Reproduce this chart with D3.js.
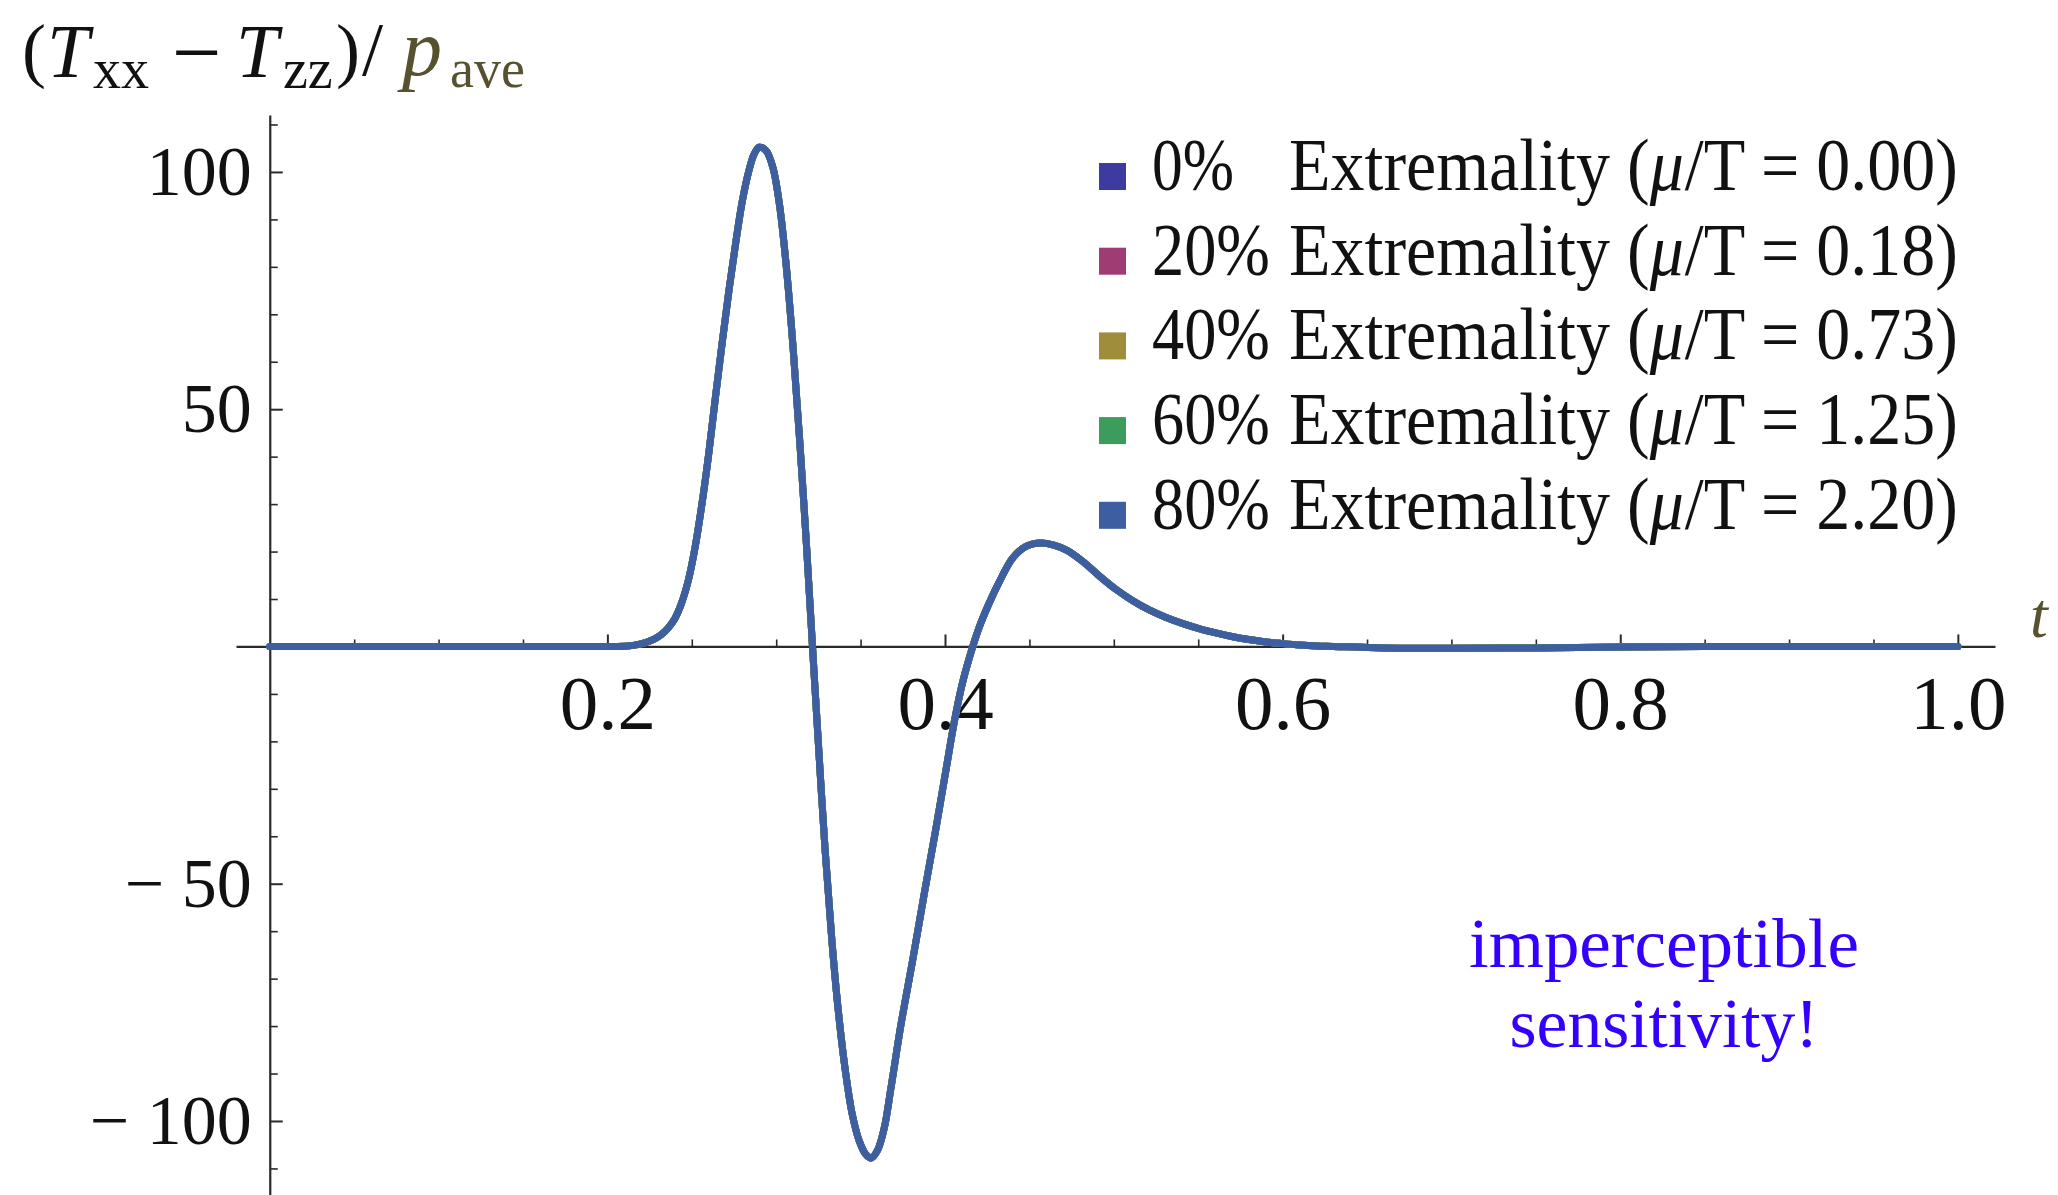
<!DOCTYPE html>
<html>
<head>
<meta charset="utf-8">
<script src="https://cdn.jsdelivr.net/npm/d3@7"></script>
<style>
  html, body { margin: 0; padding: 0; background: #ffffff; }
  svg { display: block; }
  text { font-family: "Liberation Serif", "Times New Roman", serif; }
</style>
</head>
<body>
<svg id="chart" width="2058" height="1195"></svg>
<script>
// Time samples t and the normalized anisotropy (Txx - Tzz)/p_ave at each sample.
const timeValues = [
  0, 0.1, 0.2, 0.205, 0.212, 0.218, 0.224, 0.228, 0.232, 0.236, 0.24, 0.244, 0.248,
  0.252, 0.256, 0.26, 0.264, 0.268, 0.272, 0.276, 0.28, 0.284, 0.287, 0.29,
  0.294, 0.298, 0.302, 0.306, 0.31, 0.314, 0.318, 0.3215, 0.325, 0.329, 0.333,
  0.337, 0.341, 0.345, 0.349, 0.353, 0.3563, 0.36, 0.364, 0.368, 0.374, 0.3809,
  0.388, 0.3948, 0.4005, 0.4056, 0.41, 0.415, 0.42, 0.426, 0.432, 0.44, 0.448,
  0.457, 0.465, 0.472, 0.482, 0.4916, 0.501, 0.511, 0.521, 0.531, 0.541, 0.551,
  0.561, 0.5705, 0.58, 0.59, 0.6, 0.61, 0.62, 0.63, 0.66, 0.7, 0.75, 0.8, 0.85, 0.9, 1.0
];
const anisotropyValues = [
  0, 0, 0, 0, 0.1, 0.4, 1.0, 1.6, 2.5, 3.9, 5.9, 9.2, 14,
  21, 30, 40.5, 52.5, 64, 75, 85, 94, 100.5, 103.8, 105.2,
  104.5, 101, 93, 80, 63, 43, 21, 0, -20.5, -43, -62,
  -77.5, -89.5, -98.5, -104, -107, -107.8, -106.2, -101.5, -93, -79.5, -66,
  -51.5, -38, -26.2, -15.7, -8.2, -1.7, 3.8, 9, 13.5, 18.6, 21.1,
  21.8, 21.3, 20.3, 17.8, 14.8, 12.1, 9.7, 7.7, 6.1, 4.8, 3.7,
  2.8, 2.05, 1.45, 0.95, 0.6, 0.3, 0.1, 0, -0.3, -0.4, -0.3, -0.1, 0, 0, 0
];

// Legend entries: the curves for every extremality coincide to line width.
const extremalityPercent = ["0%", "20%", "40%", "60%", "80%"];
const muOverT = ["0.00", "0.18", "0.73", "1.25", "2.20"];
const seriesColors = ["#3c3ca0", "#a03c74", "#a08d3c", "#3c9c5c", "#3d5ea0"];

// Axis ticks.
const xMajorTicks = [0.2, 0.4, 0.6, 0.8, 1.0];
const xMinorTicks = [0.05, 0.1, 0.15, 0.25, 0.3, 0.35, 0.45, 0.5, 0.55, 0.65, 0.7, 0.75, 0.85, 0.9, 0.95];
const yMajorTicks = [-100, -50, 50, 100];
const yMinorTicks = [-110, -90, -80, -70, -60, -40, -30, -20, -10, 10, 20, 30, 40, 60, 70, 80, 90, 110];

const svg = d3.select("#chart");

const x = d3.scaleLinear().domain([-0.02, 1.022]).range([236, 1995]);
const y = d3.scaleLinear().domain([-115.6, 112]).range([1195, 115]);

const axisColor = "#2a2a2a";

// ---- x axis (drawn through y = 0) ----
const gx = svg.append("g")
  .attr("transform", `translate(0,${y(0)})`)
  .style("color", axisColor)
  .call(d3.axisBottom(x).tickValues(xMajorTicks).tickSizeInner(-12).tickSizeOuter(0)
    .tickPadding(28).tickFormat(d3.format(".1f")));
gx.select(".domain").attr("stroke-width", 2.2);
gx.selectAll(".tick line").attr("stroke-width", 2);
gx.selectAll(".tick text")
  .attr("fill", "#111")
  .style("font-family", "'Liberation Serif', serif")
  .style("font-size", "77px");

const gxMinor = svg.append("g")
  .attr("transform", `translate(0,${y(0)})`)
  .style("color", axisColor)
  .call(d3.axisBottom(x).tickValues(xMinorTicks).tickSizeInner(-7).tickSizeOuter(0).tickFormat(""));
gxMinor.select(".domain").remove();
gxMinor.selectAll(".tick line").attr("stroke-width", 1.6);

// ---- y axis (drawn through t = 0) ----
const gy = svg.append("g")
  .attr("transform", `translate(${x(0)},0)`)
  .style("color", axisColor)
  .call(d3.axisLeft(y).tickValues(yMajorTicks).tickSizeInner(-13).tickSizeOuter(0)
    .tickPadding(18).tickFormat(d => d < 0 ? "\u2212 " + Math.abs(d) : String(d)));
gy.select(".domain").attr("stroke-width", 2.2);
gy.selectAll(".tick line").attr("stroke-width", 2);
gy.selectAll(".tick text")
  .attr("fill", "#111")
  .style("font-family", "'Liberation Serif', serif")
  .style("font-size", "70px");

const gyMinor = svg.append("g")
  .attr("transform", `translate(${x(0)},0)`)
  .style("color", axisColor)
  .call(d3.axisLeft(y).tickValues(yMinorTicks).tickSizeInner(-8).tickSizeOuter(0).tickFormat(""));
gyMinor.select(".domain").remove();
gyMinor.selectAll(".tick line").attr("stroke-width", 1.6);

// ---- curves: one per extremality, the last one ends up on top ----
const points = timeValues.map((t, i) => [t, anisotropyValues[i]]);
const line = d3.line()
  .x(d => x(d[0]))
  .y(d => y(d[1]))
  .curve(d3.curveCatmullRom.alpha(0.5));

svg.append("g").selectAll("path")
  .data(seriesColors)
  .join("path")
  .attr("d", line(points))
  .attr("fill", "none")
  .attr("stroke", d => d)
  .attr("stroke-width", 7)
  .attr("stroke-linejoin", "round")
  .attr("stroke-linecap", "round");

// ---- legend ----
// Place a run of text pieces one after another, then squeeze the run to a target width.
function textRun(parent, x0, baseline, pieces, targetWidth, size) {
  const g = parent.append("g");
  let cx = 0;
  pieces.forEach(p => {
    const t = g.append("text")
      .attr("x", cx).attr("y", 0)
      .attr("fill", p.color || "#111")
      .style("font-size", (p.size || size) + "px")
      .style("font-style", p.italic ? "italic" : "normal")
      .text(p.s);
    cx += t.node().getComputedTextLength() + (p.gap || 0);
  });
  const sx = targetWidth / cx;
  g.attr("transform", `translate(${x0},${baseline}) scale(${sx},1)`);
  return g;
}

const legendTop = 163, legendStep = 84.7, swatch = 27;
const legend = svg.append("g");
extremalityPercent.forEach((pct, i) => {
  const top = legendTop + i * legendStep;
  legend.append("rect")
    .attr("x", 1099).attr("y", top)
    .attr("width", swatch).attr("height", swatch)
    .attr("fill", seriesColors[i]);
  textRun(legend, 1152, top + 27, [{ s: pct }], pct.length === 2 ? 82 : 118, 73);
  textRun(legend, 1289, top + 27, [
    { s: "Extremality (" },
    { s: "\u03bc", italic: true, gap: 1 },
    { s: `/T = ${muOverT[i]})` }
  ], 669, 73);
});

// ---- vertical axis title: (T_xx - T_zz)/ p_ave ----
const title = svg.append("g");
const titlePieces = [
  { s: "(", x: 22, y: 74, size: 72, italic: false },
  { s: "T", x: 47, y: 77, size: 76, italic: true },
  { s: "xx", x: 93, y: 88, size: 56, italic: false },
  { s: "\u2212", x: 172, y: 82, size: 88, italic: false },
  { s: "T", x: 236, y: 77, size: 76, italic: true },
  { s: "zz", x: 283, y: 88, size: 56, italic: false },
  { s: ")", x: 336, y: 74, size: 72, italic: false },
  { s: "/", x: 362, y: 75, size: 76, italic: false },
  { s: "p", x: 402, y: 75, size: 80, italic: true, color: "#56522f" },
  { s: "ave", x: 450, y: 87, size: 54, italic: false, color: "#56522f" }
];
titlePieces.forEach(p => {
  title.append("text")
    .attr("x", p.x).attr("y", p.y)
    .attr("fill", p.color || "#111")
    .style("font-size", p.size + "px")
    .style("font-style", p.italic ? "italic" : "normal")
    .text(p.s);
});

// ---- horizontal axis label ----
svg.append("text")
  .attr("x", 2030).attr("y", 637)
  .attr("fill", "#56522f")
  .style("font-size", "64px")
  .style("font-style", "italic")
  .text("t");

// ---- annotation ----
const note = svg.append("g").attr("fill", "#3300ff").attr("text-anchor", "middle");
note.append("text").attr("x", 1664).attr("y", 967)
  .style("font-size", "70px")
  .attr("textLength", 390).attr("lengthAdjust", "spacingAndGlyphs")
  .text("imperceptible");
note.append("text").attr("x", 1664).attr("y", 1047)
  .style("font-size", "70px")
  .attr("textLength", 309).attr("lengthAdjust", "spacingAndGlyphs")
  .text("sensitivity!");
</script>
</body>
</html>
